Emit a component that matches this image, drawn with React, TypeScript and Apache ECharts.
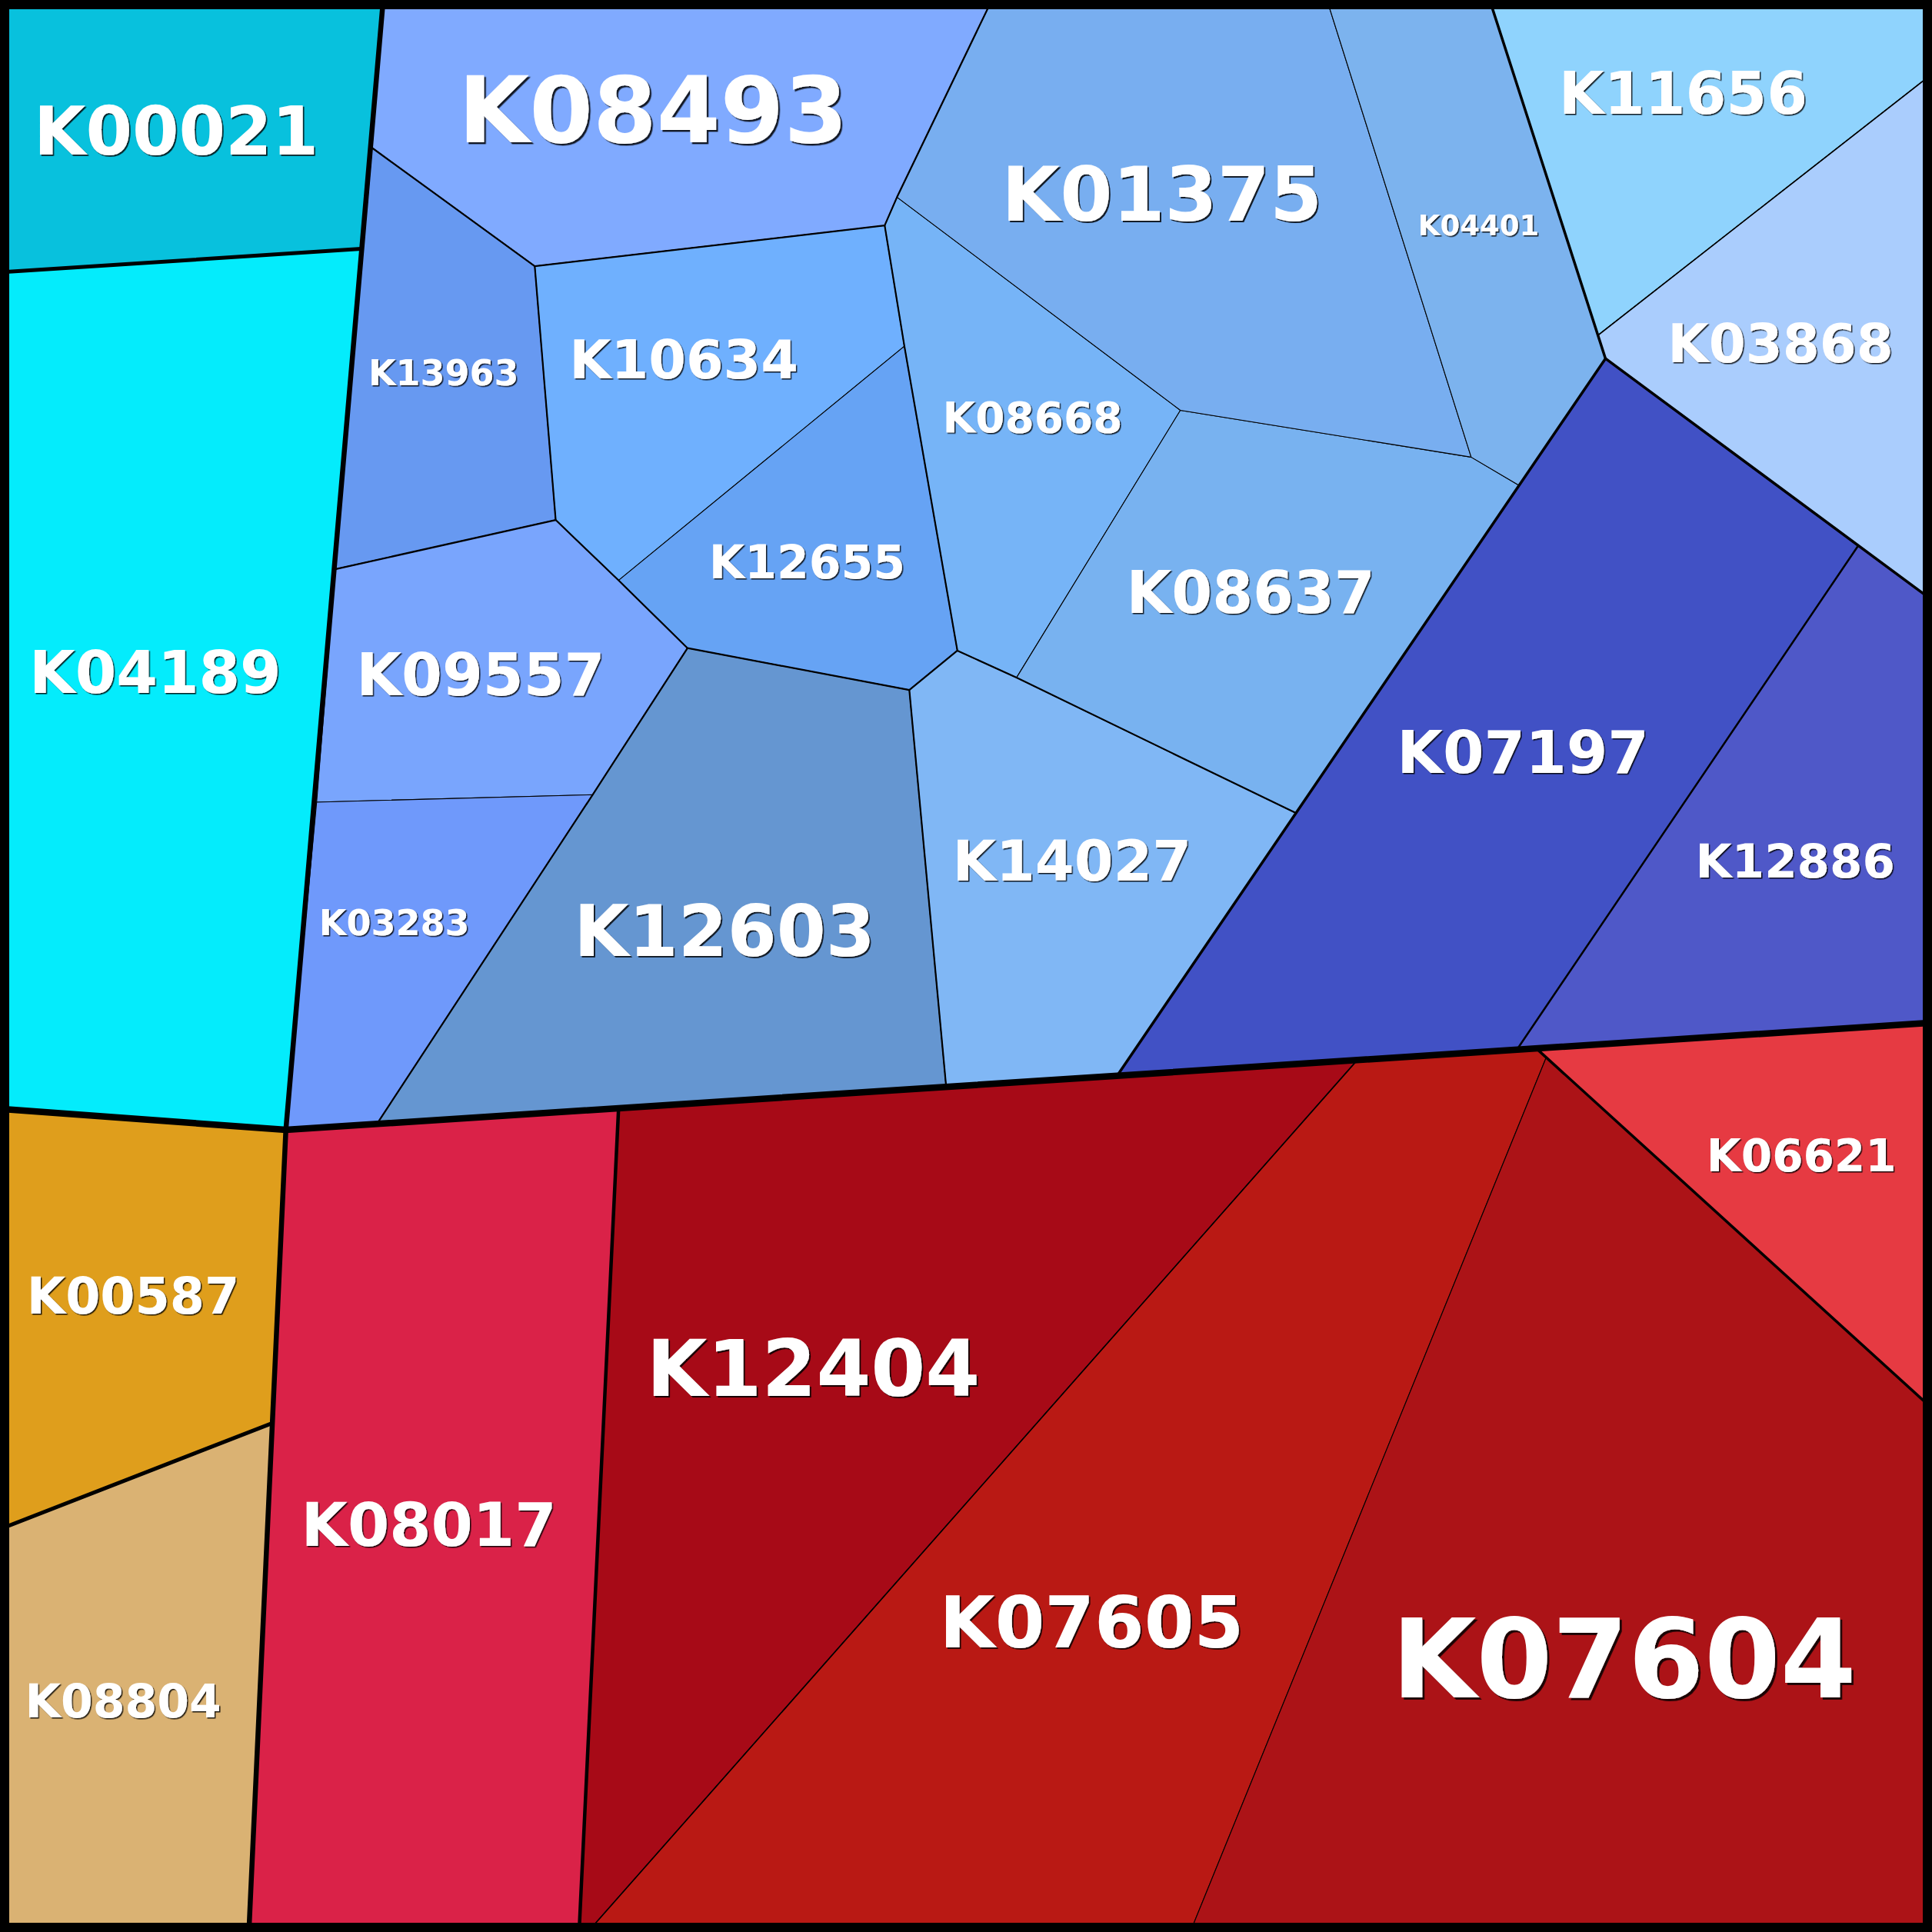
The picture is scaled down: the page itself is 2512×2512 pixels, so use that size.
import React, { useEffect, useRef } from "react";
import * as echarts from "echarts";

// Picture units: the whole square spans 0..1568 on both axes (y downwards).
const EXTENT = 1568;

const names = [
  "K00021", "K04189", "K08493", "K13963", "K10634", "K12655", "K09557", "K03283",
  "K12603", "K14027", "K08668", "K08637", "K01375", "K04401", "K11656", "K03868",
  "K07197", "K12886", "K08017", "K12404", "K07605", "K07604", "K06621", "K00587", "K08804",
];

const colors = [
  "#08c1dd", "#04ecfc", "#80aaff", "#6799f1", "#6fb0fe", "#66a3f4", "#79a5fd", "#6f99fb",
  "#6596d1", "#80b7f5", "#76b4f7", "#78b2f0", "#78aef0", "#7cb3ee", "#8fd3fd", "#aacdfd",
  "#4151c5", "#4f58c8", "#da2248", "#a70a17", "#b91914", "#ac1317", "#e63a42", "#df9e1c", "#dab273",
];

// Voronoi cell polygons (vertices)
const cells: number[][][] = [
  [[0, 0], [311, 0], [293, 202], [0, 221]],
  [[0, 221], [293, 202], [232, 917], [0, 900]],
  [[311, 0], [805, 0], [728, 160], [718, 183], [434, 216], [302, 120]],
  [[302, 120], [434, 216], [451, 422], [272, 462]],
  [[434, 216], [718, 183], [734, 281], [502, 471], [451, 422]],
  [[502, 471], [734, 281], [777, 528], [738, 560], [558, 526]],
  [[272, 462], [451, 422], [502, 471], [558, 526], [481, 645], [257, 651]],
  [[257, 651], [481, 645], [306, 912], [232, 917]],
  [[558, 526], [738, 560], [768, 883], [306, 912], [481, 645]],
  [[738, 560], [777, 528], [825, 550], [1052, 660], [906, 874], [768, 883]],
  [[718, 183], [728, 160], [958, 333], [825, 550], [777, 528], [734, 281]],
  [[958, 333], [1194, 371], [1233, 394], [1052, 660], [825, 550]],
  [[805, 0], [1077, 0], [1194, 371], [958, 333], [728, 160]],
  [[1077, 0], [1209, 0], [1303, 291], [1233, 394], [1194, 371]],
  [[1209, 0], [1568, 0], [1568, 60], [1297, 272]],
  [[1297, 272], [1568, 60], [1568, 487], [1508, 443], [1303, 291]],
  [[1303, 291], [1508, 443], [1231, 852], [906, 874], [1052, 660], [1233, 394]],
  [[1508, 443], [1568, 487], [1568, 830], [1231, 852]],
  [[232, 917], [502, 900], [470, 1568], [202, 1568]],
  [[502, 900], [1101, 861], [477, 1568], [470, 1568]],
  [[1101, 861], [1247, 851], [1255, 858], [966, 1568], [477, 1568]],
  [[1255, 858], [1568, 1143], [1568, 1568], [966, 1568]],
  [[1247, 851], [1568, 830], [1568, 1143], [1255, 858]],
  [[0, 900], [232, 917], [221, 1155], [0, 1241]],
  [[0, 1241], [221, 1155], [202, 1568], [0, 1568]],
];

// Label anchors (picture units) and label font sizes (px)
const labelAt: number[][] = [
  [143, 107], [126, 546], [530, 90], [360, 303], [555, 292], [655, 456], [390, 548], [320, 749],
  [588, 756], [870, 699], [838, 339], [1015, 481], [943, 158], [1200, 183], [1366, 76], [1445, 279],
  [1236, 611], [1457, 699], [348, 1238], [660, 1111], [886, 1317], [1318, 1347], [1462, 938], [108, 1052], [100, 1381],
];
const labelSize = [
  87, 77, 119, 46, 70, 60, 76, 46,
  92, 73, 55, 76, 98, 37, 76, 69,
  77, 61, 78, 102, 93, 142, 58, 65, 60,
];

// Hierarchy borders drawn over the cells
const borders: number[][][] = [
  [[0, 900], [232, 917], [1568, 830]],
  [[311, 0], [232, 917]],
  [[232, 917], [202, 1568]],
  [[0, 221], [293, 202]],
  [[0, 1241], [221, 1155]],
  [[502, 900], [470, 1568]],
  [[1247, 851], [1568, 1143]],
  [[1209, 0], [1303, 291], [1568, 487]],
  [[1303, 291], [906, 874]],
  [[1508, 443], [1231, 852]],
  [[1297, 272], [1568, 60]],
  [[1101, 861], [477, 1568]],
  [[302, 120], [434, 216], [718, 183], [728, 160], [805, 0]],
  [[434, 216], [451, 422], [272, 462]],
  [[451, 422], [502, 471], [558, 526], [738, 560], [777, 528], [734, 281], [718, 183]],
  [[558, 526], [481, 645], [306, 912]],
  [[738, 560], [768, 883]],
  [[777, 528], [825, 550], [1052, 660]],
];
const borderWidths = [8.5, 6.5, 6.5, 5, 5, 4.5, 3.5, 3.5, 3.5, 2.5, 1.6, 1.6, 2.2, 2.2, 2.2, 2.2, 2.2, 2.2];

export default function App() {
  const ref = useRef<HTMLDivElement>(null);
  useEffect(() => {
    document.body.style.margin = "0";
    const chart = echarts.init(ref.current as HTMLDivElement, null, { renderer: "svg" });
    chart.setOption({
      animation: false,
      backgroundColor: "#ffffff",
      grid: { left: 0, right: 0, top: 0, bottom: 0 },
      xAxis: { type: "value", min: 0, max: EXTENT, show: false },
      yAxis: { type: "value", min: 0, max: EXTENT, inverse: true, show: false },
      series: [
        {
          type: "custom",
          name: "cells",
          coordinateSystem: "cartesian2d",
          clip: false,
          z: 1,
          data: names.map((n, i) => ({ name: n, value: labelAt[i] })),
          renderItem: (params: any, api: any) => {
            const i = params.dataIndex;
            return {
              type: "polygon",
              shape: { points: cells[i].map((p) => api.coord(p)) },
              style: { fill: colors[i], stroke: "#000", lineWidth: 1.1, lineJoin: "round" },
            };
          },
        },
        {
          type: "custom",
          name: "borders",
          coordinateSystem: "cartesian2d",
          clip: false,
          silent: true,
          z: 2,
          data: borders.map((b) => ({ value: b[0] })),
          renderItem: (params: any, api: any) => {
            const i = params.dataIndex;
            return {
              type: "polyline",
              shape: { points: borders[i].map((p) => api.coord(p)) },
              style: { fill: "none", stroke: "#000", lineWidth: borderWidths[i], lineJoin: "round", lineCap: "round" },
            };
          },
        },
        {
          type: "custom",
          name: "labels",
          coordinateSystem: "cartesian2d",
          clip: false,
          silent: true,
          z: 4,
          data: names.map((n, i) => ({ name: n, value: labelAt[i] })),
          renderItem: (params: any, api: any) => {
            const i = params.dataIndex;
            const c = api.coord(labelAt[i]);
            const s = labelSize[i];
            return {
              type: "text",
              x: c[0],
              y: c[1],
              style: {
                text: names[i],
                fill: "#ffffff",
                fontSize: s,
                fontWeight: "bold",
                fontFamily: "DejaVu Sans",
                align: "center",
                verticalAlign: "middle",
                textShadowColor: "rgba(0,0,0,0.85)",
                textShadowBlur: 1.5,
                textShadowOffsetX: Math.max(1.5, s * 0.02),
                textShadowOffsetY: Math.max(1.5, s * 0.02),
              },
            };
          },
        },
      ],
      graphic: [
        {
          type: "rect",
          z: 100,
          silent: true,
          shape: { x: 0, y: 0, width: 2512, height: 2512 },
          style: { fill: "none", stroke: "#000", lineWidth: 24 },
        },
      ],
    });
    return () => chart.dispose();
  }, []);
  return <div ref={ref} style={{ width: 2512, height: 2512 }} />;
}
